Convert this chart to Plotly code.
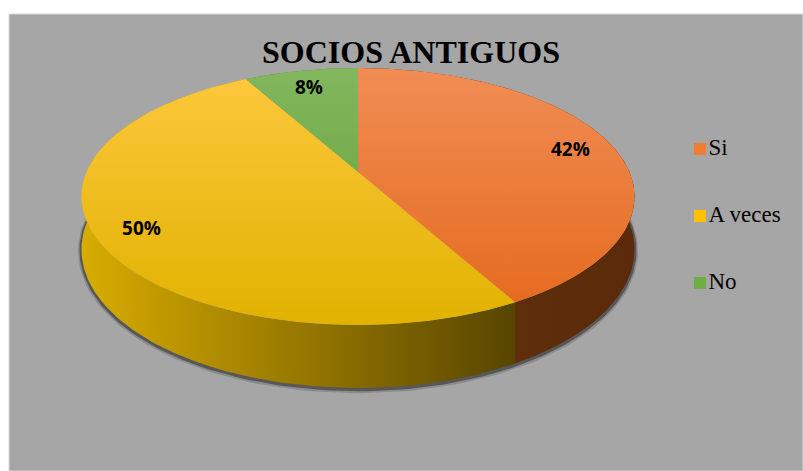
import numpy as np
import plotly.graph_objects as go

# ---- data ----
title_text = "SOCIOS ANTIGUOS"
labels = ["Si", "A veces", "No"]
values = [42, 50, 8]

# ---- styles ----
top_grad = [["#f08d55", "#e5681b"], ["#fdc83e", "#e1b200"], ["#82b75e", "#5f9f30"]]
wall_grad = [["#66330f", "#5a2a0a"], ["#d8ac00", "#574500"], ["#5e8f33", "#4a7a26"]]
legend_colors = ["#ed7d31", "#ffc000", "#70ad47"]
SERIF = "Liberation Serif, Times New Roman, serif"

W, H = 803, 471
ML, MT = 9, 14

# 3D-pie projection parameters (pixel space)
CX, CY = 358.0, 172.0
KX, KY = 271.5, 123.8
U = 0.1906          # perspective strength
T = 51.0            # thickness


def proj(theta_deg, r=1.0, drop=0.0):
    th = np.radians(theta_deg)
    X = r * np.sin(th)
    Z = r * np.cos(th)
    f = 1.0 / (1.0 + U * Z)
    return CX + KX * X * f, CY - KY * Z * f + drop * f


total = float(sum(values))
bounds = np.concatenate([[0.0], np.cumsum(values) / total * 360.0])

fig = go.Figure()

# soft shadow under the front rim
ths = np.linspace(80, 280, 200)
for w, c, d in [(7, "rgba(60,60,60,0.25)", 1.5), (4, "rgba(45,45,45,0.55)", 1.0)]:
    sx, sy = proj(ths, drop=T + d)
    fig.add_trace(go.Scatter(x=sx, y=sy, mode="lines",
                             line=dict(color=c, width=w),
                             hoverinfo="skip", showlegend=False))

# side walls
for i, lab in enumerate(labels):
    a, b = bounds[i], bounds[i + 1]
    th = np.linspace(a, b, 200)
    tx, ty = proj(th)
    bx, by = proj(th[::-1], drop=T)
    xs = np.concatenate([tx, bx, tx[:1]])
    ys = np.concatenate([ty, by, ty[:1]])
    fig.add_trace(go.Scatter(
        x=xs, y=ys, mode="lines", fill="toself", line=dict(width=0),
        fillgradient=dict(type="horizontal",
                          colorscale=[[0, wall_grad[i][0]], [1, wall_grad[i][1]]],
                          start=float(xs.min()), stop=float(xs.max())),
        hoverinfo="skip", showlegend=False))

# top faces
for i, lab in enumerate(labels):
    a, b = bounds[i], bounds[i + 1]
    th = np.linspace(a, b, 300)
    tx, ty = proj(th)
    xs = np.concatenate([[CX], tx, [CX]])
    ys = np.concatenate([[CY], ty, [CY]])
    y0, y1 = proj(0.0)[1], proj(180.0)[1]
    fig.add_trace(go.Scatter(
        x=xs, y=ys, mode="lines", fill="toself", line=dict(width=0),
        fillgradient=dict(type="vertical",
                          colorscale=[[0, top_grad[i][0]], [1, top_grad[i][1]]],
                          start=float(y0), stop=float(y1)),
        name=lab, hoverinfo="skip", showlegend=False))

# percentage labels
mids = (bounds[:-1] + bounds[1:]) / 2
lx, ly = proj(mids, r=0.84)
ly = ly + 4
pct = ["<b>" + f"{round(v / total * 100)}%" + "</b>" for v in values]
fig.add_trace(go.Scatter(x=lx, y=ly, mode="text", text=pct,
                         textfont=dict(family="Open Sans, Lato, sans-serif", size=19, color="black"),
                         hoverinfo="skip", showlegend=False))

# legend (markers + text)
leg_x = [700.0] * len(labels)
leg_y = [149.0, 216.0, 283.0]
fig.add_trace(go.Scatter(x=leg_x, y=leg_y, mode="markers+text", text=labels,
                         textposition="middle right",
                         marker=dict(symbol="square", size=12, color=legend_colors,
                                     line=dict(width=0)),
                         textfont=dict(family=SERIF, size=23, color="black"),
                         hoverinfo="skip", showlegend=False))

fig.update_layout(
    width=W, height=H,
    margin=dict(l=ML, r=0, t=MT, b=0),
    paper_bgcolor="white",
    plot_bgcolor="#a6a6a6",
    showlegend=False,
    title=dict(text="<b>" + title_text + "</b>", x=411 / W, xanchor="center",
               y=1 - 52 / H, yanchor="middle",
               font=dict(family=SERIF, size=32, color="black")),
    xaxis=dict(range=[ML, W], visible=False, fixedrange=True),
    yaxis=dict(range=[H, MT], visible=False, fixedrange=True),
    shapes=[dict(type="rect", xref="paper", yref="paper", x0=0, x1=1, y0=0, y1=1,
                 line=dict(color="#d9d9d9", width=1), layer="above")],
)

fig.write_html("out.html")
